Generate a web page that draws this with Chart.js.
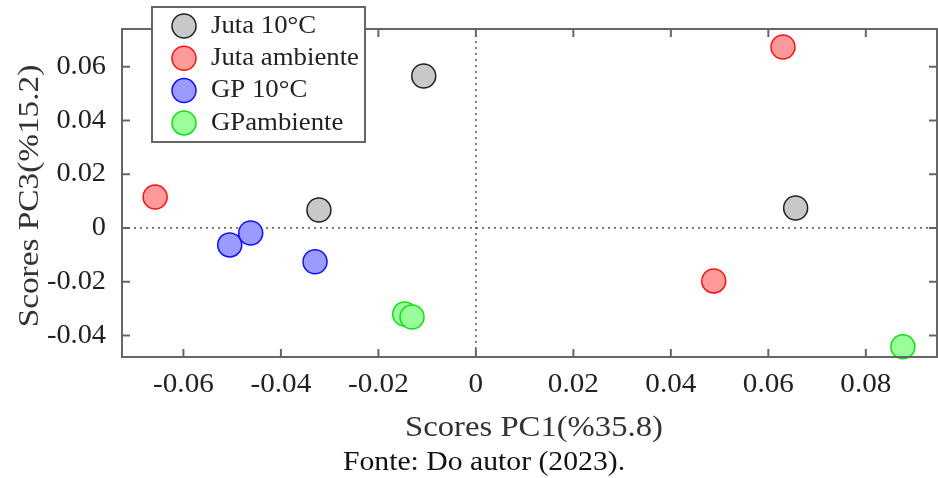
<!DOCTYPE html>
<html><head><meta charset="utf-8">
<script src="https://cdn.jsdelivr.net/npm/chart.js@4"></script>
<style>html,body{margin:0;padding:0;background:#fff}#wrap{width:938px;height:478px}</style>
</head><body><div id="wrap"><canvas id="c" width="938" height="478"></canvas></div>
<script>
const xTicks = [-0.06, -0.04, -0.02, 0, 0.02, 0.04, 0.06, 0.08];
const yTicks = [-0.04, -0.02, 0, 0.02, 0.04, 0.06];
const seriesNames = ['Juta 10°C', 'Juta ambiente', 'GP 10°C', 'GPambiente'];
const juta10 = [{x:-0.0107,y:0.0565},{x:-0.0322,y:0.0067},{x:0.0656,y:0.0074}];
const jutaAmb = [{x:0.0630,y:0.0673},{x:-0.0658,y:0.0115},{x:0.0488,y:-0.0197}];
const gp10 = [{x:-0.0505,y:-0.0063},{x:-0.0462,y:-0.0019},{x:-0.0330,y:-0.0126}];
const gpAmb = [{x:-0.0146,y:-0.0320},{x:-0.0131,y:-0.0331},{x:0.0876,y:-0.0442}];
const xTitle = 'Scores PC1(%35.8)';
const yTitle = 'Scores PC3(%15.2)';
const caption = 'Fonte: Do autor (2023).';

const fills = ['#c8c8c8','#ff9a9a','#9a9aff','#9aff9a'];
const borders = ['#222222','#ff1010','#1010ff','#10e010'];
const serif = '"Liberation Serif", "Times New Roman", Times, serif';

function txt(ctx, s, x, y, align, size, sx, color) {
  ctx.save();
  ctx.translate(x, y);
  ctx.scale(sx, 1);
  ctx.font = size + 'px ' + serif;
  ctx.fillStyle = color || '#222';
  ctx.textAlign = align;
  ctx.textBaseline = 'middle';
  ctx.fillText(s, 0, 0);
  ctx.restore();
}

const decor = {
  id: 'decor',
  beforeDatasetsDraw(chart) {
    const {ctx, chartArea: a, scales: {x, y}} = chart;
    ctx.save();
    ctx.strokeStyle = '#333';
    ctx.lineWidth = 1.2;
    ctx.setLineDash([2, 4]);
    const x0 = x.getPixelForValue(0), y0 = y.getPixelForValue(0);
    ctx.beginPath();
    ctx.moveTo(x0, a.top); ctx.lineTo(x0, a.bottom);
    ctx.moveTo(a.left, y0); ctx.lineTo(a.right, y0);
    ctx.stroke();
    ctx.restore();
  },
  afterDraw(chart) {
    const {ctx, chartArea: a, scales: {x, y}} = chart;
    ctx.save();
    ctx.strokeStyle = '#666';
    ctx.lineWidth = 2;
    ctx.strokeRect(a.left, a.top, a.right - a.left, a.bottom - a.top);
    ctx.beginPath();
    xTicks.forEach(v => {
      const p = x.getPixelForValue(v);
      ctx.moveTo(p, a.bottom); ctx.lineTo(p, a.bottom - 8);
      ctx.moveTo(p, a.top); ctx.lineTo(p, a.top + 8);
    });
    yTicks.forEach(v => {
      const p = y.getPixelForValue(v);
      ctx.moveTo(a.left, p); ctx.lineTo(a.left + 8, p);
      ctx.moveTo(a.right, p); ctx.lineTo(a.right - 8, p);
    });
    ctx.stroke();
    xTicks.forEach(v => {
      const p = x.getPixelForValue(v);
      txt(ctx, String(v), p, a.bottom + 28, 'center', 27, 1.08);
    });
    yTicks.forEach(v => {
      const p = y.getPixelForValue(v);
      txt(ctx, String(v), a.left - 16, p, 'right', 27, 1.05);
    });
    txt(ctx, xTitle, 534, 428, 'center', 30, 1.09, '#333');
    txt(ctx, caption, 484, 463, 'center', 27, 1.1, '#111');
    ctx.save();
    ctx.translate(30, 196);
    ctx.rotate(-Math.PI / 2);
    txt(ctx, yTitle, 0, 0, 'center', 30, 1.11, '#333');
    ctx.restore();
    // legend
    ctx.fillStyle = '#fff';
    ctx.fillRect(152, 7, 213, 135);
    ctx.strokeStyle = '#666';
    ctx.lineWidth = 2;
    ctx.strokeRect(152, 7, 213, 135);
    chart.data.datasets.forEach((ds, i) => {
      const cy = 26 + i * 32.3;
      ctx.beginPath();
      ctx.arc(184, cy, 12, 0, Math.PI * 2);
      ctx.fillStyle = ds.backgroundColor;
      ctx.fill();
      ctx.lineWidth = 1.5;
      ctx.strokeStyle = ds.borderColor;
      ctx.stroke();
      txt(ctx, ds.label, 211, cy, 'left', 26, 1.03);
    });
    ctx.restore();
  }
};

const sets = [juta10, jutaAmb, gp10, gpAmb];
function build() {
  new Chart(document.getElementById('c'), {
    type: 'scatter',
    data: {
      datasets: sets.map((d, i) => ({
        label: seriesNames[i],
        data: d,
        backgroundColor: fills[i],
        borderColor: borders[i],
        borderWidth: 1.5,
        pointRadius: 12,
        pointHoverRadius: 12,
        clip: false
      }))
    },
    options: {
      responsive: false,
      animation: false,
      layout: {autoPadding: false, padding: {left: 0, right: 1, top: 29, bottom: 0}},
      plugins: {legend: {display: false}, tooltip: {enabled: false}},
      scales: {
        x: {
          type: 'linear', min: -0.0726, max: 0.0946,
          grid: {display: false}, border: {display: false},
          ticks: {display: false},
          afterBuildTicks(s) { s.ticks = xTicks.map(v => ({value: v})); },
          afterFit(s) { s.height = 121; }
        },
        y: {
          type: 'linear', min: -0.048, max: 0.074,
          grid: {display: false}, border: {display: false},
          ticks: {display: false},
          afterBuildTicks(s) { s.ticks = yTicks.map(v => ({value: v})); },
          afterFit(s) { s.width = 122; }
        }
      }
    },
    plugins: [decor]
  });
}
if (document.fonts && document.fonts.load) {
  document.fonts.load('25px "Liberation Serif"').then(build, build);
} else { build(); }
</script>
</body></html>
